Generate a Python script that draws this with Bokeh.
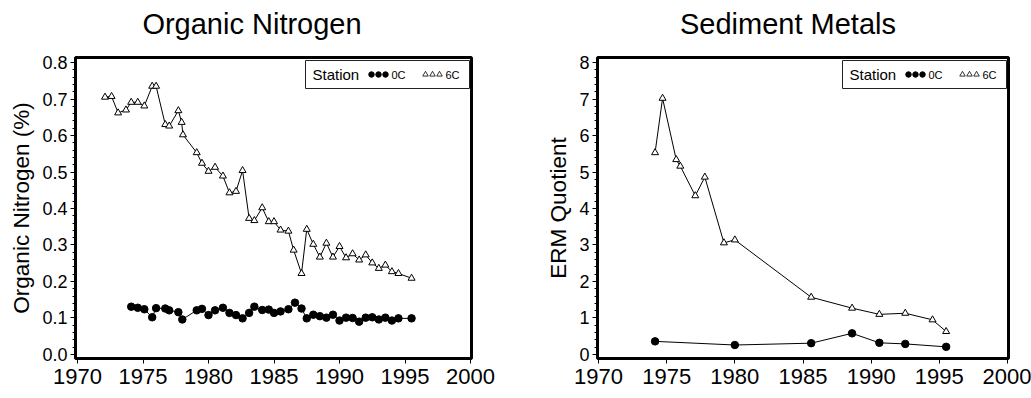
from bokeh.plotting import figure
from bokeh.layouts import row
from bokeh.models import Range1d, SingleIntervalTicker, NumeralTickFormatter, Title
from bokeh.embed import file_html
from bokeh.resources import INLINE
from bokeh.core.properties import value

FONT = "Liberation Sans"

# ---------------- data ----------------
# Organic Nitrogen (%), station 6C
on_6c_year = [1972.1, 1972.6, 1973.1, 1973.7, 1974.1, 1974.6, 1975.1, 1975.7, 1976.0,
              1976.7, 1977.0, 1977.7, 1977.95, 1978.05, 1979.1, 1979.5, 1980.0, 1980.5,
              1981.1, 1981.6, 1982.1, 1982.6, 1983.1, 1983.5, 1984.1, 1984.6, 1985.0,
              1985.5, 1986.1, 1986.5, 1987.1, 1987.5, 1988.0, 1988.5, 1989.0, 1989.5,
              1990.0, 1990.5, 1991.0, 1991.5, 1992.0, 1992.5, 1993.0, 1993.5, 1994.0,
              1994.5, 1995.5]
on_6c_val = [0.705, 0.707, 0.662, 0.670, 0.691, 0.691, 0.681, 0.735, 0.735,
             0.630, 0.626, 0.668, 0.636, 0.602, 0.553, 0.524, 0.502, 0.513,
             0.489, 0.443, 0.447, 0.504, 0.373, 0.367, 0.402, 0.364, 0.364,
             0.341, 0.338, 0.286, 0.222, 0.343, 0.302, 0.267, 0.305, 0.267,
             0.296, 0.265, 0.276, 0.259, 0.273, 0.251, 0.236, 0.245, 0.227,
             0.222, 0.209]
# Organic Nitrogen (%), station 0C
on_0c_year = [1974.1, 1974.6, 1975.1, 1975.7, 1976.0, 1976.7, 1977.0, 1977.7, 1978.0,
              1979.1, 1979.5, 1980.0, 1980.5, 1981.1, 1981.6, 1982.1, 1982.6, 1983.1,
              1983.5, 1984.1, 1984.6, 1985.0, 1985.5, 1986.1, 1986.6, 1987.1, 1987.5,
              1988.0, 1988.5, 1989.0, 1989.5, 1990.0, 1990.5, 1991.0, 1991.5, 1992.0,
              1992.5, 1993.0, 1993.5, 1994.0, 1994.5, 1995.5]
on_0c_val = [0.131, 0.128, 0.124, 0.102, 0.127, 0.126, 0.121, 0.116, 0.096,
             0.121, 0.125, 0.108, 0.121, 0.128, 0.114, 0.108, 0.099, 0.114,
             0.131, 0.122, 0.123, 0.114, 0.118, 0.124, 0.142, 0.126, 0.099,
             0.109, 0.105, 0.101, 0.109, 0.093, 0.101, 0.100, 0.090, 0.101,
             0.102, 0.096, 0.101, 0.093, 0.099, 0.099]

# Sediment Metals (ERM Quotient), station 6C
sm_6c_year = [1974.15, 1974.7, 1975.7, 1976.0, 1977.1, 1977.8, 1979.2, 1980.0,
              1985.6, 1988.6, 1990.6, 1992.5, 1994.5, 1995.5]
sm_6c_val = [5.53, 7.02, 5.34, 5.16, 4.35, 4.86, 3.06, 3.14,
             1.57, 1.27, 1.10, 1.13, 0.95, 0.63]
# Sediment Metals (ERM Quotient), station 0C
sm_0c_year = [1974.15, 1980.0, 1985.6, 1988.6, 1990.6, 1992.5, 1995.5]
sm_0c_val = [0.36, 0.26, 0.31, 0.58, 0.32, 0.29, 0.21]

legend_title = "Station"
station_labels = ["0C", "6C"]


def make_fig(title, ylabel, xs6, ys6, xs0, ys0, width, bl, br, xr, yr,
             y_interval, y_fmt, title_offset):
    fh = 301
    fw = width - bl - br
    p = figure(width=width, height=398, x_range=Range1d(*xr), y_range=Range1d(*yr),
               output_backend="svg", toolbar_location=None, title=None,
               min_border_left=bl, min_border_right=br,
               min_border_top=57, min_border_bottom=40)
    p.extra_x_ranges = {"px": Range1d(0, fw)}
    p.extra_y_ranges = {"py": Range1d(0, fh)}
    p.grid.visible = False
    p.outline_line_color = "black"
    p.outline_line_width = 3
    p.background_fill_color = "white"
    p.border_fill_color = "white"

    # spacer between frame and title (nearest the frame), then the title
    p.add_layout(Title(text=" ", text_font_size="1px", standoff=13), "above")
    p.add_layout(Title(text=title, text_font=FONT, text_font_size="29px",
                       text_font_style="normal", text_color="black",
                       align="left", offset=title_offset,
                       vertical_align="top", standoff=0), "above")

    xa = p.xaxis[0]
    xa.ticker = SingleIntervalTicker(interval=5, num_minor_ticks=0)
    xa.axis_line_color = None
    xa.major_tick_in = 0
    xa.major_tick_out = 5
    xa.minor_tick_out = 0
    xa.major_tick_line_color = "black"
    xa.major_label_text_font = FONT
    xa.major_label_text_font_size = "22px"
    xa.major_label_text_color = "black"
    xa.major_label_standoff = 5

    ya = p.yaxis[0]
    ya.ticker = SingleIntervalTicker(interval=y_interval, num_minor_ticks=5)
    ya.formatter = NumeralTickFormatter(format=y_fmt)
    ya.axis_line_color = None
    ya.major_tick_in = 0
    ya.major_tick_out = 5
    ya.minor_tick_in = 0
    ya.minor_tick_out = 3
    ya.major_tick_line_color = "black"
    ya.minor_tick_line_color = "black"
    ya.major_label_text_font = FONT
    ya.major_label_text_font_size = "18px"
    ya.major_label_text_color = "black"
    ya.major_label_standoff = 3
    ya.axis_label = ylabel
    ya.axis_label_text_font = FONT
    ya.axis_label_text_font_size = "22.5px"
    ya.axis_label_text_font_style = "normal"
    ya.axis_label_text_color = "black"
    ya.axis_label_standoff = 5

    # series
    p.line(xs6, ys6, line_color="black", line_width=1)
    p.scatter(xs6, ys6, marker="triangle", size=7, fill_color="white",
              line_color="black", line_width=1)
    p.line(xs0, ys0, line_color="black", line_width=1)
    p.scatter(xs0, ys0, marker="circle", size=7.5, fill_color="black",
              line_color="black")

    # legend (frame pixel coordinates)
    bx1 = fw - 2
    bx0 = bx1 - 164
    by1 = fh - 3
    by0 = by1 - 28
    ly = (by0 + by1) / 2
    p.quad(left=[bx0], right=[bx1], bottom=[by0], top=[by1], fill_color="white",
           line_color="#222222", line_width=1, x_range_name="px", y_range_name="py")
    p.text(x=[bx0 + 7], y=[ly], text=[legend_title], text_font=value(FONT),
           text_font_size="15px", text_baseline="middle", text_align="left",
           text_color="black", x_range_name="px", y_range_name="py")
    p.scatter(x=[bx0 + 66, bx0 + 73, bx0 + 80], y=[ly] * 3, marker="circle", size=5.5,
              fill_color="black", line_color="black", x_range_name="px", y_range_name="py")
    p.text(x=[bx0 + 86], y=[ly], text=[station_labels[0]], text_font=value(FONT),
           text_font_size="11px", text_baseline="middle", text_align="left",
           text_color="black", x_range_name="px", y_range_name="py")
    p.scatter(x=[bx0 + 120, bx0 + 127, bx0 + 134], y=[ly] * 3, marker="triangle", size=5.5,
              fill_color="white", line_color="black", line_width=0.8,
              x_range_name="px", y_range_name="py")
    p.text(x=[bx0 + 140], y=[ly], text=[station_labels[1]], text_font=value(FONT),
           text_font_size="11px", text_baseline="middle", text_align="left",
           text_color="black", x_range_name="px", y_range_name="py")
    return p


p1 = make_fig("Organic Nitrogen", "Organic Nitrogen (%)",
              on_6c_year, on_6c_val, on_0c_year, on_0c_val,
              width=515, bl=75, br=44,
              xr=(1969.847, 2000.076), yr=(-0.01096, 0.8137),
              y_interval=0.1, y_fmt="0.0", title_offset=66.9)
p2 = make_fig("Sediment Metals", "ERM Quotient",
              sm_6c_year, sm_6c_val, sm_0c_year, sm_0c_val,
              width=516, bl=82, br=23,
              xr=(1969.927, 2000.073), yr=(-0.1096, 8.137),
              y_interval=1, y_fmt="0", title_offset=82.5)

layout = row(p1, p2)
open("out.html", "w").write(file_html(layout, INLINE))
